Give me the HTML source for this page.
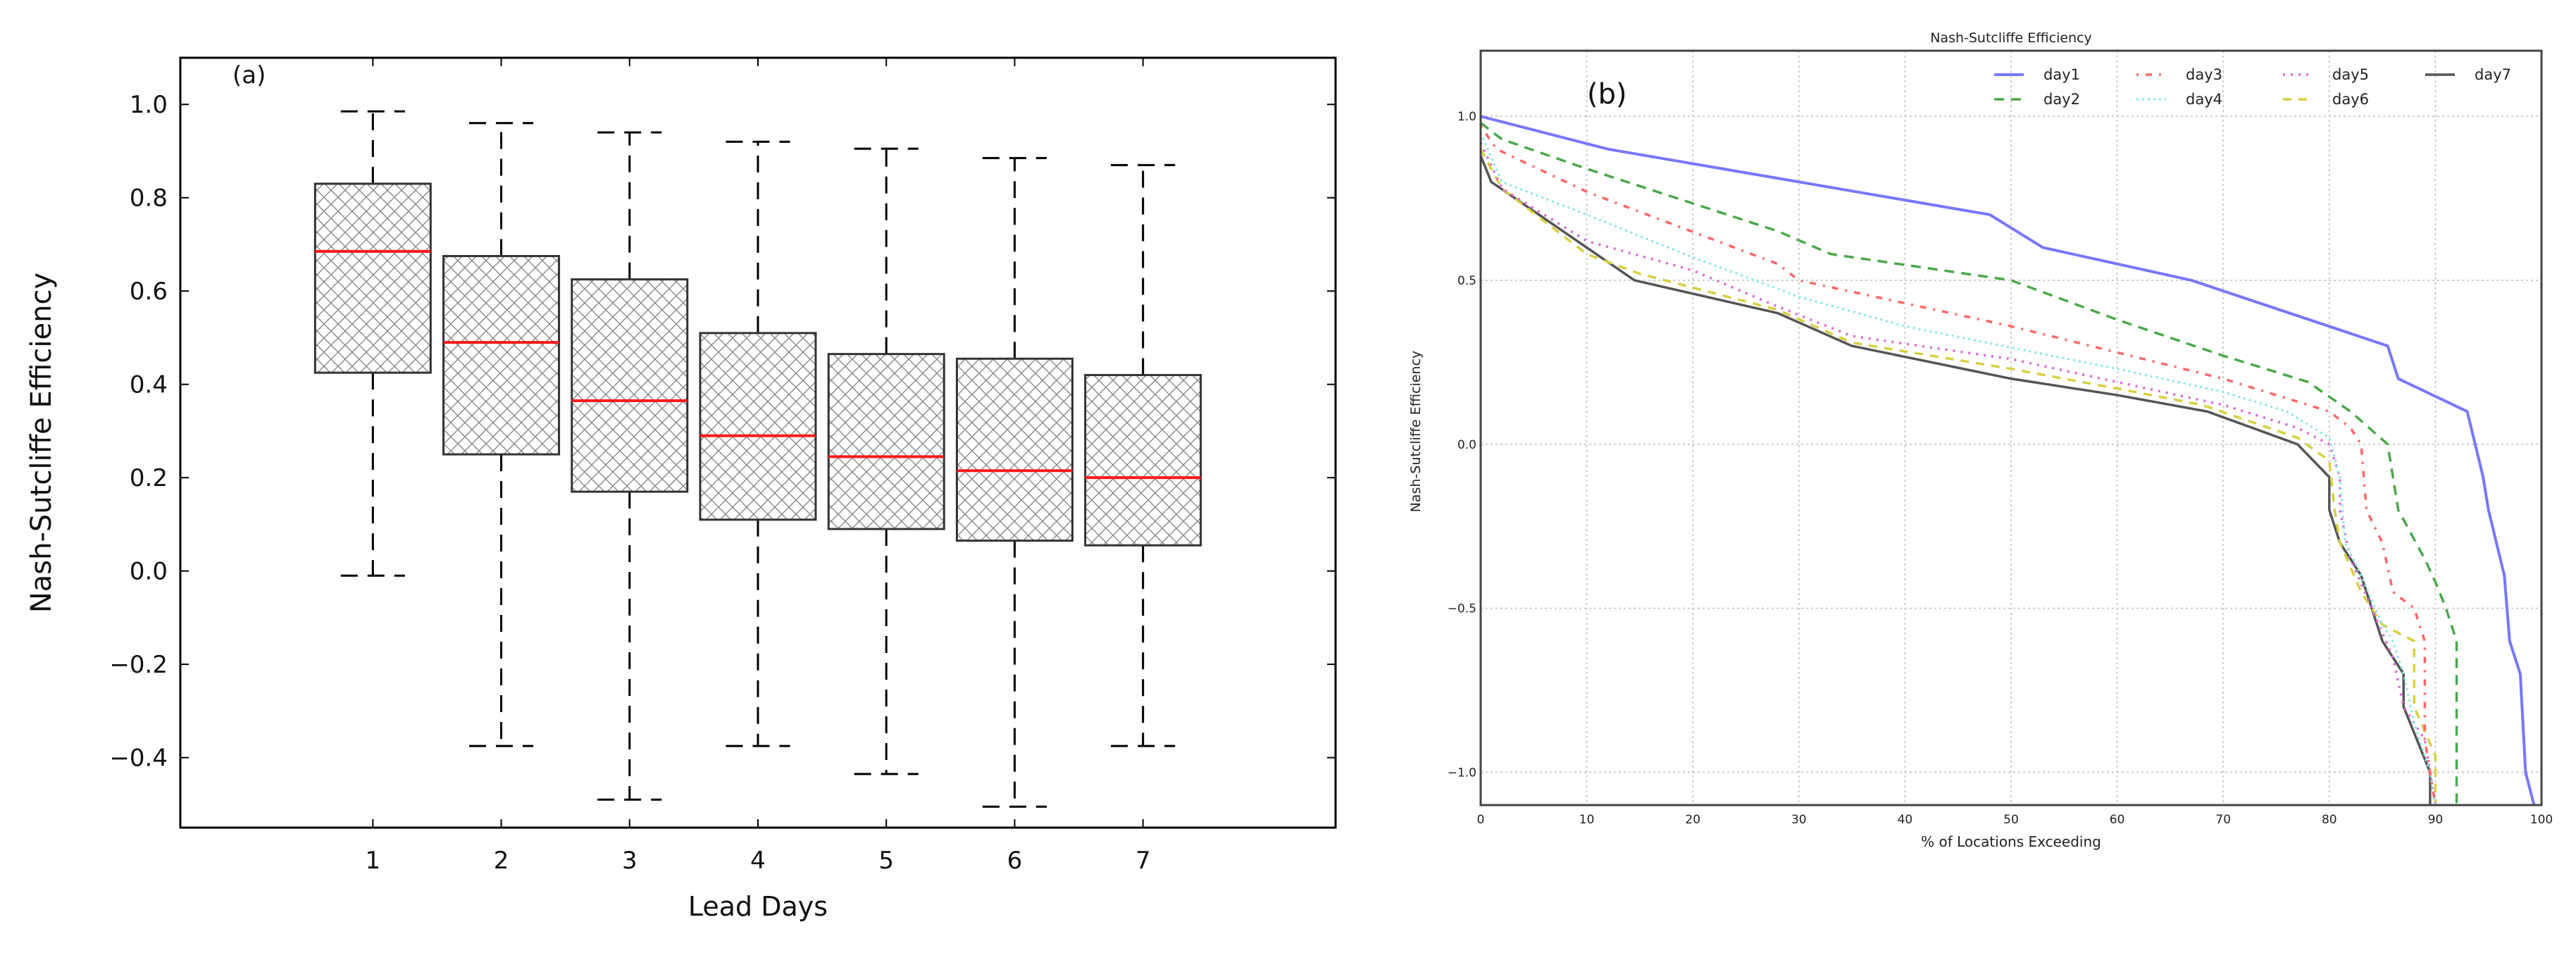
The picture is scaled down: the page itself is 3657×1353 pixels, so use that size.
<!DOCTYPE html>
<html><head><meta charset="utf-8"><style>
html,body{margin:0;padding:0;background:#fff;}
svg{display:block;font-family:"DejaVu Sans","Liberation Sans",sans-serif;}
</style></head><body>
<svg id="fig" width="3657" height="1353" viewBox="0 0 3657 1353" xmlns="http://www.w3.org/2000/svg">
<defs>
<pattern id="hatch" width="20" height="20" patternUnits="userSpaceOnUse">
<path d="M0,0 L20,20 M20,0 L0,20 M-5,15 L5,25 M15,-5 L25,5 M-5,5 L5,-5 M15,25 L25,15" stroke="#888" stroke-width="1.4" fill="none"/>
</pattern>
</defs>
<g id="pa"></g>
<g id="pb"></g>
</svg>
<script>
// ---- Panel (a) data ----
const days = [1,2,3,4,5,6,7];
const q1 = [0.425,0.25,0.17,0.11,0.09,0.065,0.055];
const medians = [0.685,0.49,0.365,0.29,0.245,0.215,0.20];
const q3 = [0.83,0.675,0.625,0.51,0.465,0.455,0.42];
const whiskerLow = [-0.01,-0.375,-0.49,-0.375,-0.435,-0.505,-0.375];
const whiskerHigh = [0.985,0.96,0.94,0.92,0.905,0.885,0.87];
const aYTicks = [-0.4,-0.2,0.0,0.2,0.4,0.6,0.8,1.0];
const aYTickLabels = ["\u22120.4","\u22120.2","0.0","0.2","0.4","0.6","0.8","1.0"];

// ---- Panel (b) data ----
const seriesNames = ["day1","day2","day3","day4","day5","day6","day7"];
const day1X=[0,12,48,53,67,85.5,86.5,93,94.5,95,96.5,97,98,98.5,99.3];
const day1Y=[1.0,0.9,0.7,0.6,0.5,0.3,0.2,0.1,-0.1,-0.2,-0.4,-0.6,-0.7,-1.0,-1.1];
const day2X=[0,2,10,28,33,50,60,70,78,82,85.5,86.5,89,90,91,92,92];
const day2Y=[0.98,0.93,0.84,0.65,0.58,0.5,0.38,0.27,0.19,0.1,0.0,-0.2,-0.35,-0.42,-0.5,-0.6,-1.1];
const day3X=[0,1.5,10,28,30,50,60,70,80,82,83,83.5,85,86,88,89,89,89.5,90];
const day3Y=[0.97,0.9,0.77,0.55,0.5,0.36,0.28,0.2,0.1,0.05,0.0,-0.2,-0.3,-0.45,-0.5,-0.6,-0.9,-1.0,-1.1];
const day4X=[0,2,10,20,30,40,60,70,76,80,81,81.5,83,85,86,87,88,89.5,90];
const day4Y=[0.95,0.8,0.7,0.57,0.45,0.36,0.23,0.16,0.1,0.02,-0.1,-0.3,-0.4,-0.55,-0.6,-0.7,-0.85,-1.0,-1.1];
const day5X=[0,2,10,20,28,35,50,60,70,77,80,81,81,82,84,86,87,89,89.5,90];
const day5Y=[0.92,0.78,0.62,0.53,0.42,0.33,0.26,0.19,0.12,0.05,0.0,-0.1,-0.2,-0.35,-0.5,-0.65,-0.8,-0.9,-1.0,-1.1];
const day6X=[0,2,10,15,28,35,50,60,68,77,80,80.5,81,83,85,88,88,90,90];
const day6Y=[0.9,0.78,0.58,0.52,0.41,0.31,0.23,0.17,0.12,0.02,-0.05,-0.2,-0.3,-0.45,-0.55,-0.6,-0.8,-0.95,-1.1];
const day7X=[0,1,10,14.5,28,35,50,60,68.5,77,80,80,81,83,85,87,87,89.5,89.5];
const day7Y=[0.88,0.8,0.6,0.5,0.4,0.3,0.2,0.15,0.1,0.0,-0.1,-0.2,-0.3,-0.4,-0.6,-0.7,-0.8,-1.0,-1.1];
const bXTicks=[0,10,20,30,40,50,60,70,80,90,100];
const bYTicks=[-1.0,-0.5,0.0,0.5,1.0];
const bYTickLabels=["\u22121.0","\u22120.5","0.0","0.5","1.0"];

const NS="http://www.w3.org/2000/svg";
function mk(parent,tag,attrs,text){const e=document.createElementNS(NS,tag);for(const k in attrs)e.setAttribute(k,attrs[k]);if(text!==undefined)e.textContent=text;parent.appendChild(e);return e;}

// ===== Panel A =====
(function(){
const g=document.getElementById('pa');
const L=256,R=1896,T=82,B=1175;
const xmin=-0.5,xmax=8.5,ymin=-0.55,ymax=1.1;
const sx=v=>L+(v-xmin)/(xmax-xmin)*(R-L);
const sy=v=>B-(v-ymin)/(ymax-ymin)*(B-T);
for(let i=0;i<days.length;i++){
  const x=sx(days[i]);const bw=(sx(0.45)-sx(0));const cw=sx(0.25)-sx(0);
  const wg=mk(g,'g',{});
  
  
  const w1=mk(wg,'line',{x1:x,x2:x,y1:sy(q3[i]),y2:sy(whiskerHigh[i]),stroke:'#000','stroke-width':3,'stroke-dasharray':'24,14'});
  
  
  const w2=mk(wg,'line',{x1:x,x2:x,y1:sy(q1[i]),y2:sy(whiskerLow[i]),stroke:'#000','stroke-width':3,'stroke-dasharray':'24,14'});
  
  
  const c1=mk(wg,'line',{x1:x-cw,x2:x+cw,y1:sy(whiskerHigh[i]),y2:sy(whiskerHigh[i]),stroke:'#000','stroke-width':3,'stroke-dasharray':'24,14'});
  
  
  const c2=mk(wg,'line',{x1:x-cw,x2:x+cw,y1:sy(whiskerLow[i]),y2:sy(whiskerLow[i]),stroke:'#000','stroke-width':3,'stroke-dasharray':'24,14'});
  
  
  const r=mk(wg,'rect',{x:x-bw,y:sy(q3[i]),width:2*bw,height:sy(q1[i])-sy(q3[i]),fill:'url(#hatch)',stroke:'#333','stroke-width':3});
  
  
  const m=mk(wg,'line',{x1:x-bw,x2:x+bw,y1:sy(medians[i]),y2:sy(medians[i]),stroke:'#ff1a1a','stroke-width':4});
  
  
}
const fr=mk(g,'rect',{x:L,y:T,width:R-L,height:B-T,fill:'none',stroke:'#000','stroke-width':3});


aYTicks.forEach((v,i)=>{const y=sy(v);
  mk(g,'line',{x1:L,x2:L+12,y1:y,y2:y,stroke:'#000','stroke-width':2});
  mk(g,'line',{x1:R,x2:R-12,y1:y,y2:y,stroke:'#000','stroke-width':2});
  const t=mk(g,'text',{x:L-18,y:y+12,'text-anchor':'end','font-size':34,fill:'#111'},aYTickLabels[i]);
  
  
});
days.forEach(d=>{const x=sx(d);
  mk(g,'line',{x1:x,x2:x,y1:B,y2:B-12,stroke:'#000','stroke-width':2});
  mk(g,'line',{x1:x,x2:x,y1:T,y2:T+12,stroke:'#000','stroke-width':2});
  const t=mk(g,'text',{x:x,y:B+58,'text-anchor':'middle','font-size':34,fill:'#111'},String(d));
  
  
});
const xt=mk(g,'text',{x:(L+R)/2,y:1300,'text-anchor':'middle','font-size':38,fill:'#111'},'Lead Days');


const yt=mk(g,'text',{x:0,y:0,'text-anchor':'middle','font-size':40,fill:'#111',transform:`translate(72,${(T+B)/2}) rotate(-90)`},'Nash-Sutcliffe Efficiency');


const pl=mk(g,'text',{x:330,y:118,'font-size':34,fill:'#111'},'(a)');


})();

// ===== Panel B =====
(function(){
const g=document.getElementById('pb');
const L=2102,R=3608,T=72,B=1143;
const xmin=0,xmax=100,ymin=-1.1,ymax=1.2;
const sx=v=>L+(v-xmin)/(xmax-xmin)*(R-L);
const sy=v=>B-(v-ymin)/(ymax-ymin)*(B-T);
bXTicks.forEach(v=>{const x=sx(v);
  mk(g,'line',{x1:x,x2:x,y1:T,y2:B,stroke:'#ccc','stroke-width':2,'stroke-dasharray':'3,4'});
  const t=mk(g,'text',{x:x,y:B+26,'text-anchor':'middle','font-size':17,fill:'#222'},String(v));
  
  
});
bYTicks.forEach((v,i)=>{const y=sy(v);
  mk(g,'line',{x1:L,x2:R,y1:y,y2:y,stroke:'#ccc','stroke-width':2,'stroke-dasharray':'3,4'});
  const t=mk(g,'text',{x:L-6,y:y+6,'text-anchor':'end','font-size':17,fill:'#222'},bYTickLabels[i]);
  
  
});
const styles=[
 {c:'#7777ff',d:'',w:4},
 {c:'#4aa84a',d:'14,10',w:3.5},
 {c:'#ff6666',d:'3,10,9,10',w:3.5},
 {c:'#88e6e6',d:'3,5',w:3},
 {c:'#dd66dd',d:'3,8',w:3.5},
 {c:'#d8d040',d:'12,10',w:3.5},
 {c:'#555555',d:'',w:3.5}];
const xs=[day1X,day2X,day3X,day4X,day5X,day6X,day7X];
const ys=[day1Y,day2Y,day3Y,day4Y,day5Y,day6Y,day7Y];
const cg=mk(g,'g',{});
for(let s=6;s>=0;s--){
  const pts=xs[s].map((x,i)=>sx(x)+','+sy(ys[s][i])).join(' ');
  const p=mk(cg,'polyline',{points:pts,fill:'none',stroke:styles[s].c,'stroke-width':styles[s].w,'stroke-dasharray':styles[s].d,'stroke-linejoin':'round'});
  
  
}
const fr=mk(g,'rect',{x:L,y:T,width:R-L,height:B-T,fill:'none',stroke:'#444','stroke-width':3});


// legend
const lx=[2831,2831,3033,3033,3241,3241,3443];
const ly=[106,141,106,141,106,141,106];
for(let s=0;s<7;s++){
  const le=mk(g,'g',{});
  
  
  mk(le,'line',{x1:lx[s],x2:lx[s]+42,y1:ly[s],y2:ly[s],stroke:styles[s].c,'stroke-width':styles[s].w,'stroke-dasharray':styles[s].d});
  mk(le,'text',{x:lx[s]+70,y:ly[s]+7,'font-size':21,fill:'#222'},seriesNames[s]);
}
const tt=mk(g,'text',{x:(L+R)/2,y:60,'text-anchor':'middle','font-size':19,fill:'#222'},'Nash-Sutcliffe Efficiency');


const xt=mk(g,'text',{x:(L+R)/2,y:1202,'text-anchor':'middle','font-size':20,fill:'#222'},'% of Locations Exceeding');


const yt=mk(g,'text',{x:0,y:0,'text-anchor':'middle','font-size':19,fill:'#222',transform:`translate(2016,${(T+B)/2+5}) rotate(-90)`},'Nash-Sutcliffe Efficiency');


const pl=mk(g,'text',{x:2253,y:147,'font-size':40,fill:'#111'},'(b)');


})();
</script>
</body></html>
